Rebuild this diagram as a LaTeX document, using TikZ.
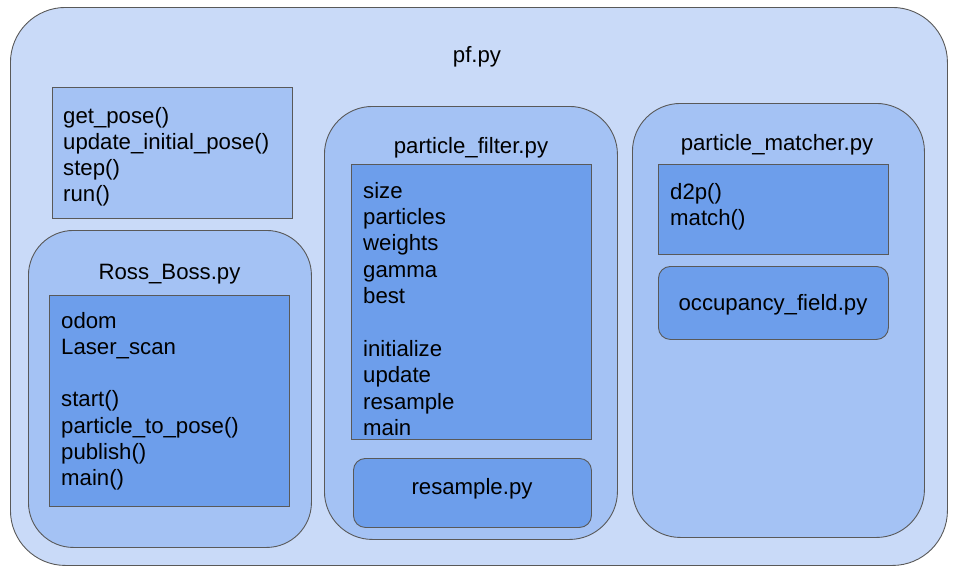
\documentclass[tikz,border=0pt]{standalone}
\usepackage{fontspec}
\setmainfont{Liberation Sans}
\definecolor{cOuter}{HTML}{C9DAF8}
\definecolor{cMid}{HTML}{A4C2F4}
\definecolor{cInner}{HTML}{6D9EEB}
\definecolor{cLine}{HTML}{595959}
\begin{document}
\begin{tikzpicture}[x=1pt,y=-1pt,
  boxbase/.style={draw=cLine, line width=0.9pt, anchor=north west, inner sep=0pt},
  lvlone/.style={boxbase, fill=cOuter, rounded corners=55pt},
  lvltwo/.style={boxbase, fill=cMid, rounded corners=48pt},
  lvltwosq/.style={boxbase, fill=cMid},
  lvlthree/.style={boxbase, fill=cInner},
  lvlthreern/.style={boxbase, fill=cInner, rounded corners=12pt},
  txtlist/.style={font=\fontsize{22.2}{26.2}\selectfont, inner sep=0pt, anchor=north west, align=left},
  txtlistb/.style={font=\fontsize{22.2}{26.4}\selectfont, inner sep=0pt, anchor=north west, align=left},
  ttl/.style={font=\fontsize{22.2}{26.2}\selectfont, inner sep=0pt, anchor=base}]
\useasboundingbox (0,0) rectangle (956,571);
% outer
\node[lvlone, minimum width=937pt, minimum height=558pt] (pf) at (10,7) {};
\node[ttl] (pftitle) at (477,62) {pf.py};
% get_pose box
\node[lvltwosq, minimum width=240pt, minimum height=131pt] (pfmeth) at (52,87) {};
\node[txtlist] (pfmethtxt) at (63,104.66) {\strut get\_pose()\\update\_initial\_pose()\\step()\\run()};
% Ross_Boss
\node[lvltwo, rounded corners=45pt, minimum width=283pt, minimum height=317pt] (ross) at (28,230) {};
\node[ttl] (rosstitle) at (169.5,279) {Ross\_Boss.py};
\node[lvlthree, minimum width=240pt, minimum height=211pt] (rossin) at (49,295) {};
\node[txtlist] (rosstxt) at (61,309.66) {\strut odom\\Laser\_scan\\[26.2pt]start()\\particle\_to\_pose()\\publish()\\main()};
% particle_filter
\node[lvltwo, minimum width=293pt, minimum height=433pt] (pfil) at (324,106) {};
\node[ttl] (pfiltitle) at (471,153) {particle\_filter.py};
\node[lvlthree, minimum width=240pt, minimum height=275pt] (pfilin) at (351,164) {};
\node[txtlistb] (pfiltxt) at (363,179.5) {\strut size\\particles\\weights\\gamma\\best\\[26.4pt]initialize\\update\\resample\\main};
\node[lvlthreern, minimum width=238pt, minimum height=69pt] (resbox) at (353,458) {};
\node[ttl] (restxt) at (472,494) {resample.py};
% particle_matcher
\node[lvltwo, minimum width=292pt, minimum height=434pt] (pmat) at (632,103) {};
\node[ttl] (pmattitle) at (777,150) {particle\_matcher.py};
\node[lvlthree, minimum width=230pt, minimum height=90pt] (pmatin) at (658,164) {};
\node[txtlist] (pmattxt) at (670,180.66) {\strut d2p()\\match()};
\node[lvlthreern, minimum width=230pt, minimum height=73pt] (occbox) at (658,266) {};
\node[ttl] (occtxt) at (773,310) {occupancy\_field.py};
\end{tikzpicture}
\end{document}
